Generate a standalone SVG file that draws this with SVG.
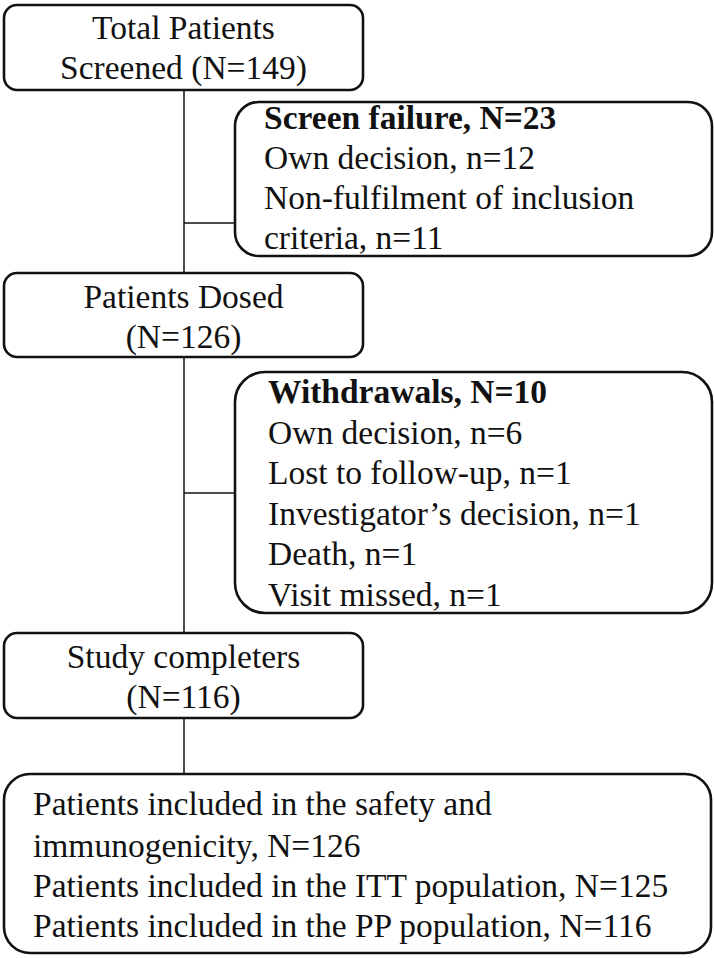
<svg xmlns="http://www.w3.org/2000/svg" width="714" height="958" viewBox="0 0 714 958">
<style>
.box{fill:#fff;stroke:#111;stroke-width:2.6}
.conn{fill:none;stroke:#111;stroke-width:1.5}
text{font-family:"Liberation Serif","Times New Roman",serif;font-size:33.5px;fill:#111}
.c{text-anchor:middle}
.b{font-weight:bold}
</style>
<rect width="714" height="958" fill="#fff"/>
<g id="connectors">
<line class="conn" x1="184" y1="90" x2="184" y2="273"/>
<line class="conn" x1="184" y1="223" x2="235" y2="223"/>
<line class="conn" x1="184" y1="357" x2="184" y2="633"/>
<line class="conn" x1="184" y1="493" x2="235" y2="493"/>
<line class="conn" x1="184" y1="718" x2="184" y2="774"/>
</g>
<g id="total-screened">
<rect class="box" x="4" y="5" width="359" height="85" rx="13"/>
<text class="c" x="183.5" y="39">Total Patients</text>
<text class="c" x="183.5" y="79">Screened (N=149)</text>
</g>
<g id="screen-failure">
<rect class="box" x="235" y="102" width="477" height="154" rx="24"/>
<text class="b" x="264" y="129">Screen failure, N=23</text>
<text x="264" y="169">Own decision, n=12</text>
<text x="264" y="209">Non-fulfilment of inclusion</text>
<text x="264" y="249">criteria, n=11</text>
</g>
<g id="patients-dosed">
<rect class="box" x="4" y="273" width="359" height="84" rx="13"/>
<text class="c" x="183.5" y="308">Patients Dosed</text>
<text class="c" x="183.5" y="348">(N=126)</text>
</g>
<g id="withdrawals">
<rect class="box" x="235" y="372" width="477" height="241" rx="30"/>
<text class="b" x="268" y="403">Withdrawals, N=10</text>
<text x="268" y="443.5">Own decision, n=6</text>
<text x="268" y="484">Lost to follow-up, n=1</text>
<text x="268" y="524.5">Investigator’s decision, n=1</text>
<text x="268" y="565">Death, n=1</text>
<text x="268" y="605.5">Visit missed, n=1</text>
</g>
<g id="study-completers">
<rect class="box" x="4" y="633" width="359" height="85" rx="13"/>
<text class="c" x="183.5" y="668">Study completers</text>
<text class="c" x="183.5" y="708">(N=116)</text>
</g>
<g id="populations">
<rect class="box" x="4" y="774" width="707" height="179" rx="26"/>
<text x="33" y="815">Patients included in the safety and</text>
<text x="33" y="857">immunogenicity, N=126</text>
<text x="33" y="897">Patients included in the ITT population, N=125</text>
<text x="33" y="937">Patients included in the PP population, N=116</text>
</g>
</svg>
